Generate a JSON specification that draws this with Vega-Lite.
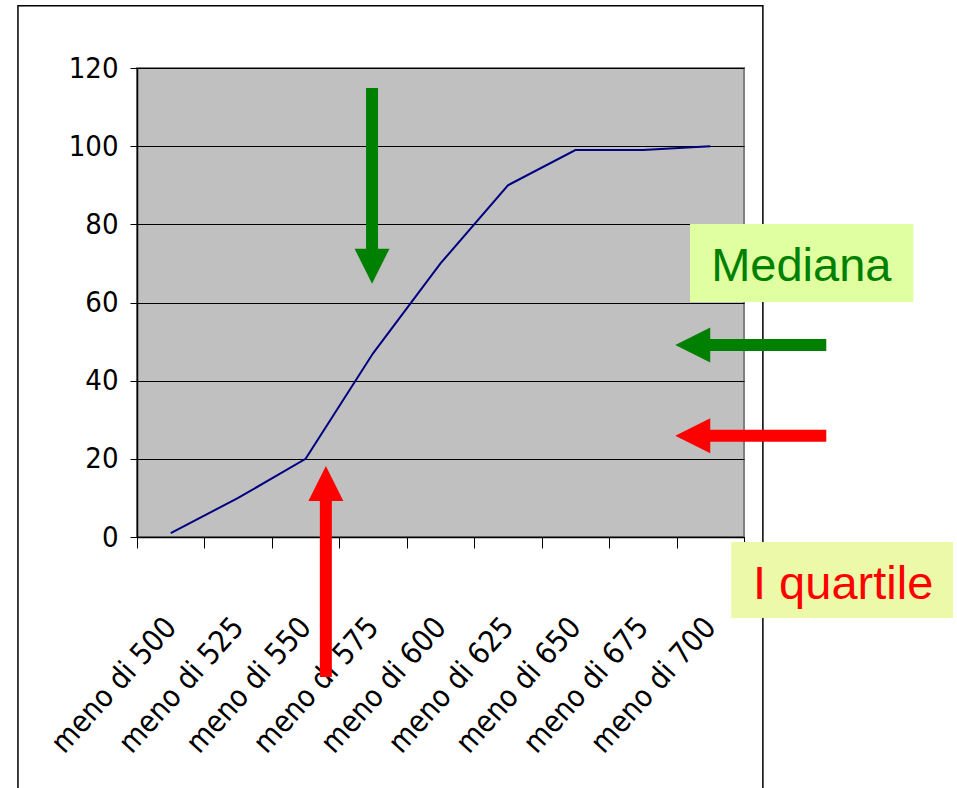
{
  "$schema": "https://vega.github.io/schema/vega-lite/v6.json",
  "width": 607,
  "height": 469,
  "autosize": {"type": "none"},
  "padding": {"left": 137, "top": 68, "right": 213, "bottom": 251},
  "background": "white",
  "config": {
    "view": {"fill": "#C0C0C0", "stroke": "#808080", "strokeWidth": 2},
    "axisY": {
      "grid": true,
      "gridColor": "#000000",
      "gridWidth": 1,
      "gridOpacity": 1,
      "domainColor": "#000000",
      "domainWidth": 1.5,
      "tickColor": "#000000",
      "tickSize": 7,
      "tickWidth": 1,
      "labelFont": "Liberation Sans Narrow, Noto Sans Condensed, DejaVu Sans Condensed, sans-serif",
      "labelFontSize": 29,
      "labelColor": "#000000",
      "labelPadding": 12,
      "title": null
    },
    "axisX": {
      "grid": false,
      "domainColor": "#000000",
      "domainWidth": 1.5,
      "tickColor": "#000000",
      "tickSize": 11,
      "tickWidth": 1,
      "tickBand": "extent",
      "labelFont": "Liberation Sans Narrow, Noto Sans Condensed, DejaVu Sans Condensed, sans-serif",
      "labelFontSize": 30,
      "labelColor": "#000000",
      "labelAngle": -48,
      "labelAlign": "right",
      "labelBaseline": "middle",
      "labelPadding": 74,
      "labelLimit": 300,
      "title": null
    }
  },
  "layer": [
    {
      "data": {"values": [
        {"classe": "meno di 500", "cumulata": 1},
        {"classe": "meno di 525", "cumulata": 10},
        {"classe": "meno di 550", "cumulata": 20},
        {"classe": "meno di 575", "cumulata": 47},
        {"classe": "meno di 600", "cumulata": 70},
        {"classe": "meno di 625", "cumulata": 90},
        {"classe": "meno di 650", "cumulata": 99},
        {"classe": "meno di 675", "cumulata": 99},
        {"classe": "meno di 700", "cumulata": 100}
      ]},
      "mark": {"type": "line", "color": "#000080", "strokeWidth": 2},
      "encoding": {
        "x": {"field": "classe", "type": "ordinal", "sort": null,
              "scale": {"type": "band", "paddingInner": 0, "paddingOuter": 0}},
        "y": {"field": "cumulata", "type": "quantitative", "scale": {"domain": [0, 120], "nice": false, "zero": true},
              "axis": {"values": [0, 20, 40, 60, 80, 100, 120], "title": null}}
      }
    },
    {
      "data": {"values": [{"x0": -1.765, "x1": 9.28, "y0": 135.9, "y1": -70}]},
      "mark": {"type": "rect", "fill": null, "fillOpacity": 0, "stroke": "#000000", "strokeWidth": 1.5},
      "encoding": {
        "x": {"field": "x0", "type": "quantitative", "scale": {"domain": [0, 9], "nice": false, "zero": false}, "axis": null},
        "x2": {"field": "x1"},
        "y": {"field": "y0", "type": "quantitative", "scale": {"domain": [0, 120], "nice": false},
              "axis": {"values": [0, 20, 40, 60, 80, 100, 120], "title": null}},
        "y2": {"field": "y1"}
      }
    },
    {
      "data": {"values": [
        {"freccia": "mediana verticale", "x0": 3.485, "x1": 3.485, "y0": 114.9, "y1": 73},
        {"freccia": "quartile verticale", "x0": 2.8, "x1": 2.8, "y0": -35.8, "y1": 10},
        {"freccia": "mediana orizzontale", "x0": 10.22, "x1": 8.45, "y0": 49.1, "y1": 49.1},
        {"freccia": "quartile orizzontale", "x0": 10.22, "x1": 8.45, "y0": 25.9, "y1": 25.9}
      ]},
      "mark": {"type": "rule", "strokeWidth": 12, "strokeCap": "butt"},
      "encoding": {
        "x": {"field": "x0", "type": "quantitative", "scale": {"domain": [0, 9], "nice": false, "zero": false}, "axis": null},
        "x2": {"field": "x1"},
        "y": {"field": "y0", "type": "quantitative", "scale": {"domain": [0, 120], "nice": false},
              "axis": {"values": [0, 20, 40, 60, 80, 100, 120], "title": null}},
        "y2": {"field": "y1"},
        "color": {"field": "freccia", "type": "nominal", "legend": null,
                  "scale": {"domain": ["mediana verticale", "quartile verticale", "mediana orizzontale", "quartile orizzontale"],
                            "range": ["#008000", "#FF0000", "#008000", "#FF0000"]}}
      }
    },
    {
      "data": {"values": [{"x": 3.485, "y": 69.3}]},
      "mark": {"type": "point", "shape": "M-1,-1L1,-1L0,1Z", "size": 1225, "filled": true, "opacity": 1, "color": "#008000", "strokeWidth": 0},
      "encoding": {
        "x": {"field": "x", "type": "quantitative", "scale": {"domain": [0, 9], "nice": false, "zero": false}, "axis": null},
        "y": {"field": "y", "type": "quantitative", "scale": {"domain": [0, 120], "nice": false},
              "axis": {"values": [0, 20, 40, 60, 80, 100, 120], "title": null}}
      }
    },
    {
      "data": {"values": [{"x": 2.8, "y": 13.7}]},
      "mark": {"type": "point", "shape": "M-1,1L1,1L0,-1Z", "size": 1225, "filled": true, "opacity": 1, "color": "#FF0000", "strokeWidth": 0},
      "encoding": {
        "x": {"field": "x", "type": "quantitative", "scale": {"domain": [0, 9], "nice": false, "zero": false}, "axis": null},
        "y": {"field": "y", "type": "quantitative", "scale": {"domain": [0, 120], "nice": false},
              "axis": {"values": [0, 20, 40, 60, 80, 100, 120], "title": null}}
      }
    },
    {
      "data": {"values": [{"x": 8.24, "y": 49.1}]},
      "mark": {"type": "point", "shape": "M1,-1L1,1L-1,0Z", "size": 1225, "filled": true, "opacity": 1, "color": "#008000", "strokeWidth": 0},
      "encoding": {
        "x": {"field": "x", "type": "quantitative", "scale": {"domain": [0, 9], "nice": false, "zero": false}, "axis": null},
        "y": {"field": "y", "type": "quantitative", "scale": {"domain": [0, 120], "nice": false},
              "axis": {"values": [0, 20, 40, 60, 80, 100, 120], "title": null}}
      }
    },
    {
      "data": {"values": [{"x": 8.24, "y": 25.9}]},
      "mark": {"type": "point", "shape": "M1,-1L1,1L-1,0Z", "size": 1225, "filled": true, "opacity": 1, "color": "#FF0000", "strokeWidth": 0},
      "encoding": {
        "x": {"field": "x", "type": "quantitative", "scale": {"domain": [0, 9], "nice": false, "zero": false}, "axis": null},
        "y": {"field": "y", "type": "quantitative", "scale": {"domain": [0, 120], "nice": false},
              "axis": {"values": [0, 20, 40, 60, 80, 100, 120], "title": null}}
      }
    },
    {
      "data": {"values": [
        {"etichetta": "Mediana", "x0": 8.2, "x1": 11.51, "y0": 80.1, "y1": 60.1},
        {"etichetta": "I quartile", "x0": 8.81, "x1": 12.1, "y0": -1.3, "y1": -20.7}
      ]},
      "mark": {"type": "rect", "stroke": null},
      "encoding": {
        "x": {"field": "x0", "type": "quantitative", "scale": {"domain": [0, 9], "nice": false, "zero": false}, "axis": null},
        "x2": {"field": "x1"},
        "y": {"field": "y0", "type": "quantitative", "scale": {"domain": [0, 120], "nice": false},
              "axis": {"values": [0, 20, 40, 60, 80, 100, 120], "title": null}},
        "y2": {"field": "y1"},
        "color": {"field": "etichetta", "type": "nominal", "legend": null,
                  "scale": {"domain": ["Mediana", "I quartile"], "range": ["#E0FFA0", "#EBF9A8"]}}
      }
    },
    {
      "data": {"values": [
        {"etichetta": "Mediana", "x": 9.85, "y": 65.5},
        {"etichetta": "I quartile", "x": 10.47, "y": -15.9}
      ]},
      "mark": {"type": "text", "font": "Liberation Sans, Arial, sans-serif", "fontSize": 47, "align": "center", "baseline": "alphabetic"},
      "encoding": {
        "x": {"field": "x", "type": "quantitative", "scale": {"domain": [0, 9], "nice": false, "zero": false}, "axis": null},
        "y": {"field": "y", "type": "quantitative", "scale": {"domain": [0, 120], "nice": false},
              "axis": {"values": [0, 20, 40, 60, 80, 100, 120], "title": null}},
        "text": {"field": "etichetta"},
        "color": {"field": "etichetta", "type": "nominal", "legend": null,
                  "scale": {"domain": ["Mediana", "I quartile"], "range": ["#008000", "#FF0000"]}}
      }
    }
  ],
  "resolve": {"scale": {"x": "independent", "color": "independent"}, "axis": {"x": "independent"}}
}
